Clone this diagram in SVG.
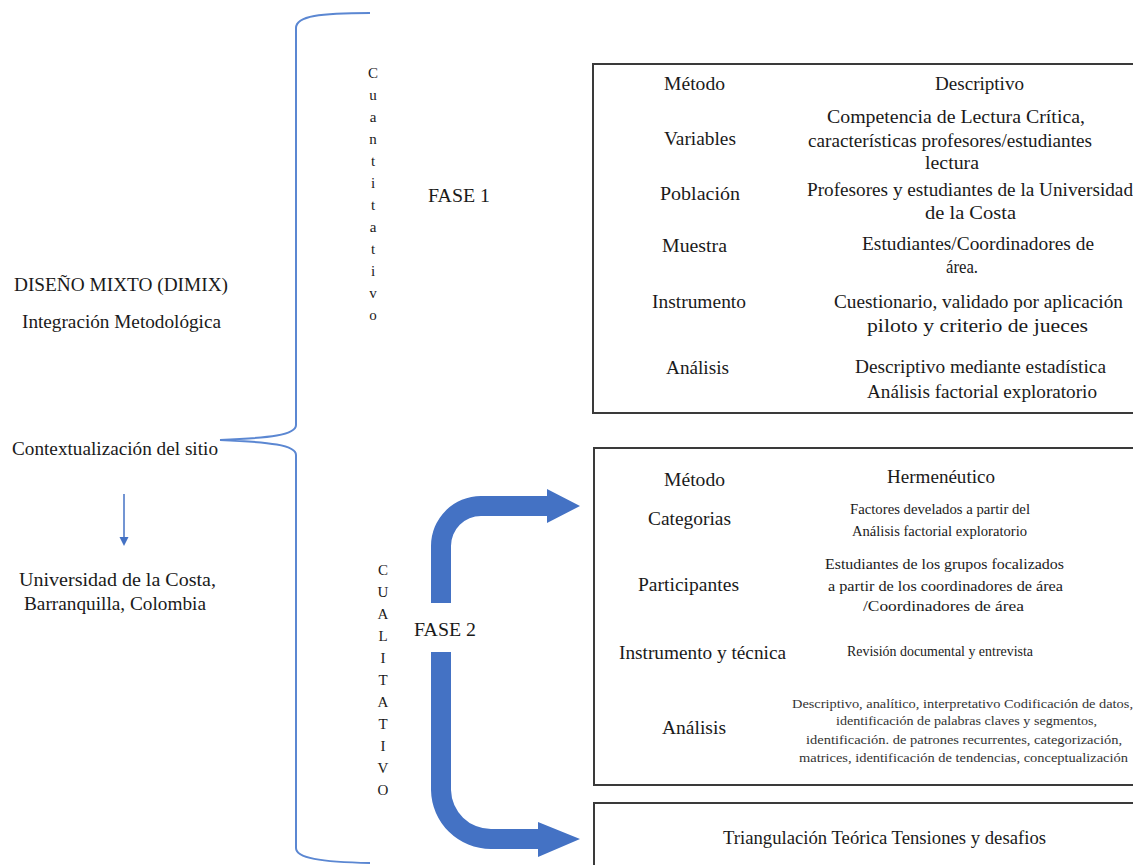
<svg xmlns="http://www.w3.org/2000/svg" width="1133" height="865" viewBox="0 0 1133 865" font-family="'Liberation Serif', 'DejaVu Serif', serif">
<style>
text{font-family:'Liberation Serif','DejaVu Serif',serif;fill:#1a1a1a;}
.m{font-size:18px;}
.s{font-size:15px;}
.t{font-size:12px;fill:#333;}
.v{font-size:15px;text-anchor:middle;}
.box{fill:#fff;stroke:#3a3a3a;stroke-width:2;}
.brace{fill:none;stroke:#5b87d2;stroke-width:2;}
.big{fill:#4472c4;}
</style>
<rect width="1133" height="865" fill="#fff"/>

<g id="connectors">
<path class="brace" d="M370,13 C320,13 296,16 296,28 L296,425 C296,435 270,438 220,440 C270,442 296,445 296,455 L296,848 C296,858 320,862 370,863"/>
<line x1="124" y1="494" x2="124" y2="539" stroke="#4472c4" stroke-width="1.5"/>
<path d="M119.5,537 L128.5,537 L124,546 Z" fill="#4472c4"/>
<path class="big" d="M431,603 L431,546 A50,50 0 0 1 481,496 L547,496 L547,489 L580,506 L547,523 L547,516 L481,516 A30,30 0 0 0 451,546 L451,603 Z"/>
<path class="big" d="M431,652 L431,790 A60,60 0 0 0 491,849 L538,849 L538,857 L580,839 L538,822 L538,829 L491,829 A40,40 0 0 1 451,790 L451,652 Z"/>
</g>

<g id="left">
<text class="m" x="14" y="291" textLength="214" lengthAdjust="spacingAndGlyphs">DISEÑO MIXTO (DIMIX)</text>
<text class="m" x="22" y="328" textLength="199" lengthAdjust="spacingAndGlyphs">Integración Metodológica</text>
<text class="m" x="12" y="455" textLength="206" lengthAdjust="spacingAndGlyphs">Contextualización del sitio</text>
<text class="m" x="19" y="586" textLength="197" lengthAdjust="spacingAndGlyphs">Universidad de la Costa,</text>
<text class="m" x="24" y="610" textLength="182" lengthAdjust="spacingAndGlyphs">Barranquilla, Colombia</text>
</g>

<g id="cuantitativo">
<text class="v" x="373" y="78">C</text>
<text class="v" x="373" y="100">u</text>
<text class="v" x="373" y="122">a</text>
<text class="v" x="373" y="144">n</text>
<text class="v" x="373" y="166">t</text>
<text class="v" x="373" y="188">i</text>
<text class="v" x="373" y="210">t</text>
<text class="v" x="373" y="232">a</text>
<text class="v" x="373" y="254">t</text>
<text class="v" x="373" y="276">i</text>
<text class="v" x="373" y="298">v</text>
<text class="v" x="373" y="320">o</text>
</g>
<g id="cualitativo">
<text class="v" x="383" y="575">C</text>
<text class="v" x="383" y="597">U</text>
<text class="v" x="383" y="619">A</text>
<text class="v" x="383" y="641">L</text>
<text class="v" x="383" y="663">I</text>
<text class="v" x="383" y="685">T</text>
<text class="v" x="383" y="707">A</text>
<text class="v" x="383" y="729">T</text>
<text class="v" x="383" y="751">I</text>
<text class="v" x="383" y="773">V</text>
<text class="v" x="383" y="795">O</text>
</g>

<g id="fase1"><text class="m" x="428" y="202" textLength="62" lengthAdjust="spacingAndGlyphs">FASE 1</text></g>
<g id="fase2"><text class="m" x="414" y="636" textLength="62" lengthAdjust="spacingAndGlyphs">FASE 2</text></g>

<g id="box1">
<rect class="box" x="593" y="64" width="560" height="349"/>
<text class="m" x="664" y="90" textLength="61" lengthAdjust="spacingAndGlyphs">Método</text>
<text class="m" x="935" y="90" textLength="89" lengthAdjust="spacingAndGlyphs">Descriptivo</text>
<text class="m" x="664" y="145" textLength="72" lengthAdjust="spacingAndGlyphs">Variables</text>
<text class="m" x="827" y="123" textLength="258" lengthAdjust="spacingAndGlyphs">Competencia de Lectura Crítica,</text>
<text class="m" x="808" y="147" textLength="284" lengthAdjust="spacingAndGlyphs">características profesores/estudiantes</text>
<text class="m" x="925" y="169" textLength="54" lengthAdjust="spacingAndGlyphs">lectura</text>
<text class="m" x="660" y="200" textLength="80" lengthAdjust="spacingAndGlyphs">Población</text>
<text class="m" x="807" y="196" textLength="326" lengthAdjust="spacingAndGlyphs">Profesores y estudiantes de la Universidad</text>
<text class="m" x="925" y="219" textLength="91" lengthAdjust="spacingAndGlyphs">de la Costa</text>
<text class="m" x="662" y="252" textLength="65" lengthAdjust="spacingAndGlyphs">Muestra</text>
<text class="m" x="862" y="250" textLength="232" lengthAdjust="spacingAndGlyphs">Estudiantes/Coordinadores de</text>
<text class="m" x="946" y="273" textLength="32" lengthAdjust="spacingAndGlyphs">área.</text>
<text class="m" x="652" y="308" textLength="94" lengthAdjust="spacingAndGlyphs">Instrumento</text>
<text class="m" x="834" y="308" textLength="289" lengthAdjust="spacingAndGlyphs">Cuestionario, validado por aplicación</text>
<text class="m" x="867" y="332" textLength="221" lengthAdjust="spacingAndGlyphs">piloto y criterio de jueces</text>
<text class="m" x="666" y="374" textLength="63" lengthAdjust="spacingAndGlyphs">Análisis</text>
<text class="m" x="855" y="373" textLength="251" lengthAdjust="spacingAndGlyphs">Descriptivo mediante estadística</text>
<text class="m" x="867" y="398" textLength="230" lengthAdjust="spacingAndGlyphs">Análisis factorial exploratorio</text>
</g>

<g id="box2">
<rect class="box" x="594" y="448" width="560" height="337"/>
<text class="m" x="664" y="486" textLength="61" lengthAdjust="spacingAndGlyphs">Método</text>
<text class="m" x="887" y="483" textLength="108" lengthAdjust="spacingAndGlyphs">Hermenéutico</text>
<text class="m" x="648" y="525" textLength="83" lengthAdjust="spacingAndGlyphs">Categorias</text>
<text class="s" x="850" y="514" textLength="180" lengthAdjust="spacingAndGlyphs">Factores develados a partir del</text>
<text class="s" x="852" y="536" textLength="175" lengthAdjust="spacingAndGlyphs">Análisis factorial exploratorio</text>
<text class="m" x="638" y="591" textLength="101" lengthAdjust="spacingAndGlyphs">Participantes</text>
<text class="s" x="825" y="569" textLength="239" lengthAdjust="spacingAndGlyphs">Estudiantes de los grupos focalizados</text>
<text class="s" x="828" y="591" textLength="235" lengthAdjust="spacingAndGlyphs">a partir de los coordinadores de área</text>
<text class="s" x="863" y="611" textLength="161" lengthAdjust="spacingAndGlyphs">/Coordinadores de área</text>
<text class="m" x="619" y="659" textLength="167" lengthAdjust="spacingAndGlyphs">Instrumento y técnica</text>
<text class="s" x="847" y="656" textLength="186" lengthAdjust="spacingAndGlyphs">Revisión documental y entrevista</text>
<text class="m" x="662" y="734" textLength="64" lengthAdjust="spacingAndGlyphs">Análisis</text>
<text class="t" x="792" y="708" textLength="341" lengthAdjust="spacingAndGlyphs">Descriptivo, analítico, interpretativo Codificación de datos,</text>
<text class="t" x="836" y="725" textLength="261" lengthAdjust="spacingAndGlyphs">identificación de palabras claves y segmentos,</text>
<text class="t" x="806" y="744" textLength="316" lengthAdjust="spacingAndGlyphs">identificación. de patrones recurrentes, categorización,</text>
<text class="t" x="799" y="762" textLength="329" lengthAdjust="spacingAndGlyphs">matrices, identificación de tendencias, conceptualización</text>
</g>

<g id="box3">
<rect class="box" x="594" y="803" width="560" height="80"/>
<text class="m" x="723" y="844" textLength="323" lengthAdjust="spacingAndGlyphs">Triangulación Teórica Tensiones y desafios</text>
</g>
</svg>
